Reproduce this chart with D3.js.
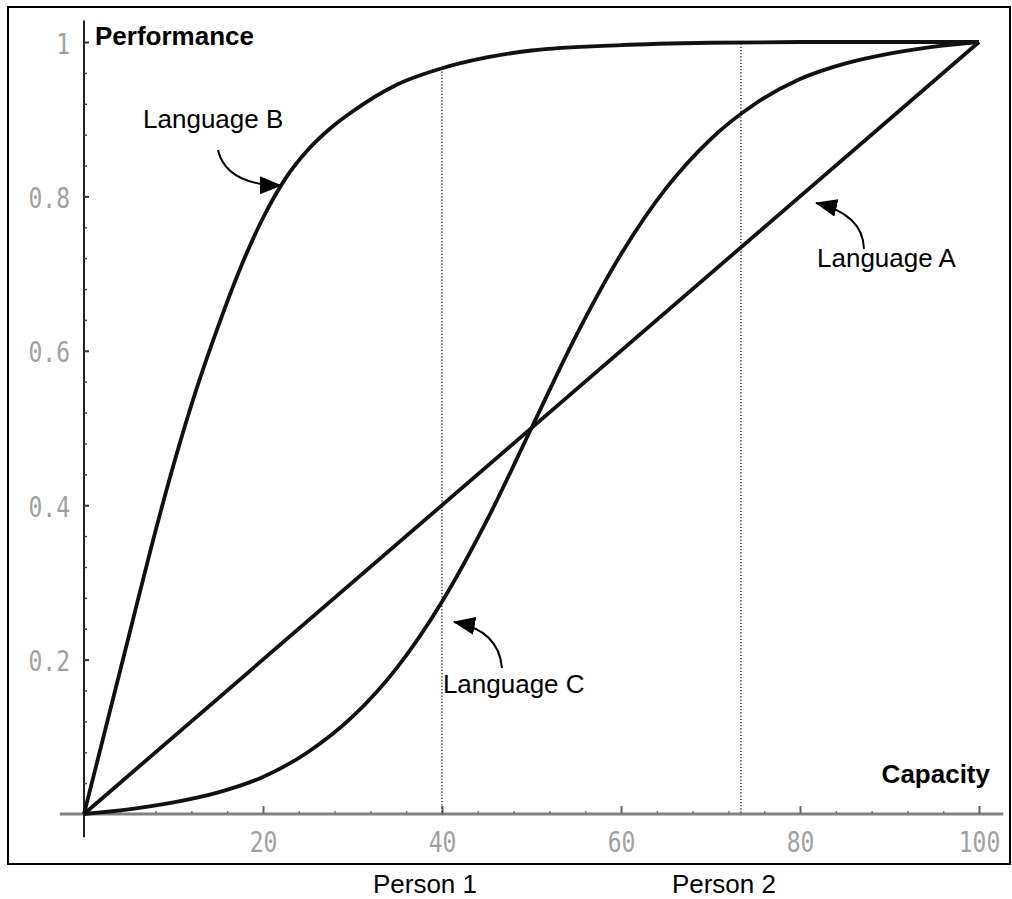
<!DOCTYPE html>
<html>
<head>
<meta charset="utf-8">
<script src="https://cdn.jsdelivr.net/npm/d3@7"></script>
<style>
  body { margin: 0; background: #fff; }
  svg { display: block; }
</style>
</head>
<body>
<svg id="chart" width="1012" height="899"></svg>
<script>
// capacity samples (x) and the performance
var capB = [0, 2.5, 5, 7.5, 10, 12.5, 15, 17.5, 20, 22.5, 25, 27.5, 30, 35, 40, 45, 50, 60, 70, 80, 90, 100];
var langB = [0, 0.115, 0.23, 0.345, 0.452, 0.548, 0.632, 0.708, 0.772, 0.823, 0.86, 0.888, 0.91, 0.945, 0.966, 0.98, 0.989, 0.996, 0.999, 1, 1, 1];

var capA = [0, 100];
var langA = [0, 1];

var capC = [0, 5, 10, 15, 20, 25, 30, 35, 40, 45, 50, 55, 60, 65, 70, 75, 80, 85, 90, 95, 100];
var langC = [0, 0.006, 0.015, 0.028, 0.048, 0.08, 0.126, 0.19, 0.275, 0.38, 0.5, 0.62, 0.725, 0.81, 0.874, 0.92, 0.952, 0.972, 0.985, 0.994, 1];

var persons = ["Person 1", "Person 2"];
var personCap = [40, 73.4];
var personTop = [0.966, 0.998];

var xMajor = [20, 40, 60, 80, 100];
var yMajor = [0.2, 0.4, 0.6, 0.8, 1];

var svg = d3.select("#chart");

var x = d3.scaleLinear().domain([0, 100]).range([84, 979]);
var y = d3.scaleLinear().domain([0, 1]).range([814, 42]);

// outer frame
svg.append("rect")
  .attr("x", 8).attr("y", 7)
  .attr("width", 1002).attr("height", 857)
  .attr("fill", "none")
  .attr("stroke", "#000")
  .attr("stroke-width", 2);

// x axis
var minorX = d3.range(4, 101, 4).filter(function (d) { return d % 20 != 0; });
var xg = svg.append("g").attr("transform", "translate(0," + y(0) + ")");
xg.append("line")
  .attr("x1", x(-2.7)).attr("x2", x(102.7))
  .attr("stroke", "#808080").attr("stroke-width", 3);
xg.append("g")
  .call(d3.axisBottom(x).tickValues(minorX).tickSize(-3).tickSizeOuter(0).tickFormat(""))
  .call(function (g) { g.select(".domain").remove(); })
  .selectAll("line").attr("stroke", "#777").attr("stroke-width", 1.5);
var xAxis = xg.append("g")
  .call(d3.axisBottom(x).tickValues(xMajor).tickSize(-8).tickSizeOuter(0));
xAxis.select(".domain").remove();
xAxis.selectAll("line").attr("stroke", "#666").attr("stroke-width", 2);
xAxis.selectAll("text")
  .attr("y", 0).attr("dy", null)
  .attr("transform", "translate(0,38) scale(1,1.22)")
  .attr("fill", "#a0a0a0")
  .style("font-family", "'DejaVu Sans Mono', monospace")
  .style("font-size", "23px");

// y axis
var minorY = d3.range(0.04, 1.001, 0.04).filter(function (d) { return Math.abs(d * 5 - Math.round(d * 5)) > 0.01; });
var yg = svg.append("g").attr("transform", "translate(" + x(0) + ",0)");
yg.append("line")
  .attr("y1", y(1.028)).attr("y2", y(-0.03))
  .attr("stroke", "#222").attr("stroke-width", 2);
yg.append("g")
  .call(d3.axisLeft(y).tickValues(minorY).tickSize(-3).tickSizeOuter(0).tickFormat(""))
  .call(function (g) { g.select(".domain").remove(); })
  .selectAll("line").attr("stroke", "#444").attr("stroke-width", 1.5);
var yAxis = yg.append("g")
  .call(d3.axisLeft(y).tickValues(yMajor).tickSize(-5).tickSizeOuter(0)
    .tickFormat(function (d) { return d == 1 ? "1" : d3.format(".1f")(d); }));
yAxis.select(".domain").remove();
yAxis.selectAll("line").attr("stroke", "#333").attr("stroke-width", 2);
yAxis.selectAll("text")
  .attr("x", 0).attr("dy", "0.36em")
  .attr("transform", "translate(-14,1) scale(1,1.22)")
  .attr("fill", "#a0a0a0")
  .style("font-family", "'DejaVu Sans Mono', monospace")
  .style("font-size", "23px");

// dotted person lines
svg.selectAll(".person")
  .data(personCap)
  .enter().append("line")
  .attr("class", "person")
  .attr("x1", function (d) { return x(d); })
  .attr("x2", function (d) { return x(d); })
  .attr("y1", function (d, i) { return y(personTop[i]); })
  .attr("y2", y(0))
  .attr("stroke", "#000")
  .attr("stroke-width", 1.2)
  .attr("stroke-dasharray", "1.2,2");

// curves
var line = d3.line()
  .x(function (d) { return x(d[0]); })
  .y(function (d) { return y(d[1]); })
  .curve(d3.curveMonotoneX);

[[capA, langA], [capB, langB], [capC, langC]].forEach(function (s) {
  svg.append("path")
    .datum(d3.zip(s[0], s[1]))
    .attr("d", line)
    .attr("fill", "none")
    .attr("stroke", "#111")
    .attr("stroke-width", 3.8)
    .attr("stroke-linejoin", "round");
});

// arrow heads
svg.append("defs").append("marker")
  .attr("id", "head")
  .attr("markerUnits", "userSpaceOnUse")
  .attr("viewBox", "0 0 22 18")
  .attr("markerWidth", 22).attr("markerHeight", 18)
  .attr("refX", 21).attr("refY", 9)
  .attr("orient", "auto")
  .append("path")
  .attr("d", "M0,0L22,9L0,18Z")
  .attr("fill", "#000");

// annotations, in chart units: label spot, arrow start, bend, tip
var noteText = ["Language B", "Language A", "Language C"];
var noteAt = [[6.6, 0.888], [81.9, 0.7085], [40.1, 0.157]];
var arrows = [
  [[14.97, 0.86], [15.87, 0.815], [22.0, 0.814]],
  [[87.15, 0.732], [87.04, 0.777], [81.79, 0.7915]],
  [[46.7, 0.189], [46.37, 0.238], [41.34, 0.2487]]
];

arrows.forEach(function (a) {
  var p = d3.path();
  p.moveTo(x(a[0][0]), y(a[0][1]));
  p.quadraticCurveTo(x(a[1][0]), y(a[1][1]), x(a[2][0]), y(a[2][1]));
  svg.append("path")
    .attr("d", p.toString())
    .attr("fill", "none")
    .attr("stroke", "#000")
    .attr("stroke-width", 2)
    .attr("marker-end", "url(#head)");
});

svg.selectAll(".note")
  .data(noteText)
  .enter().append("text")
  .attr("class", "note")
  .attr("x", function (d, i) { return x(noteAt[i][0]); })
  .attr("y", function (d, i) { return y(noteAt[i][1]); })
  .style("font-family", "'Liberation Sans', Arial, sans-serif")
  .style("font-size", "26px")
  .text(function (d) { return d; });

// axis titles
svg.append("text")
  .attr("x", 95).attr("y", 45)
  .style("font-family", "'Liberation Sans', Arial, sans-serif")
  .style("font-size", "26px").style("font-weight", "bold")
  .text("Performance");
svg.append("text")
  .attr("x", 990).attr("y", 783)
  .attr("text-anchor", "end")
  .style("font-family", "'Liberation Sans', Arial, sans-serif")
  .style("font-size", "26px").style("font-weight", "bold")
  .text("Capacity");

// person labels under the frame
svg.selectAll(".plabel")
  .data(persons)
  .enter().append("text")
  .attr("class", "plabel")
  .attr("x", function (d, i) { return x(personCap[i]) - 17; })
  .attr("y", 893)
  .attr("text-anchor", "middle")
  .style("font-family", "'Liberation Sans', Arial, sans-serif")
  .style("font-size", "26px")
  .text(function (d) { return d; });
</script>
</body>
</html>
